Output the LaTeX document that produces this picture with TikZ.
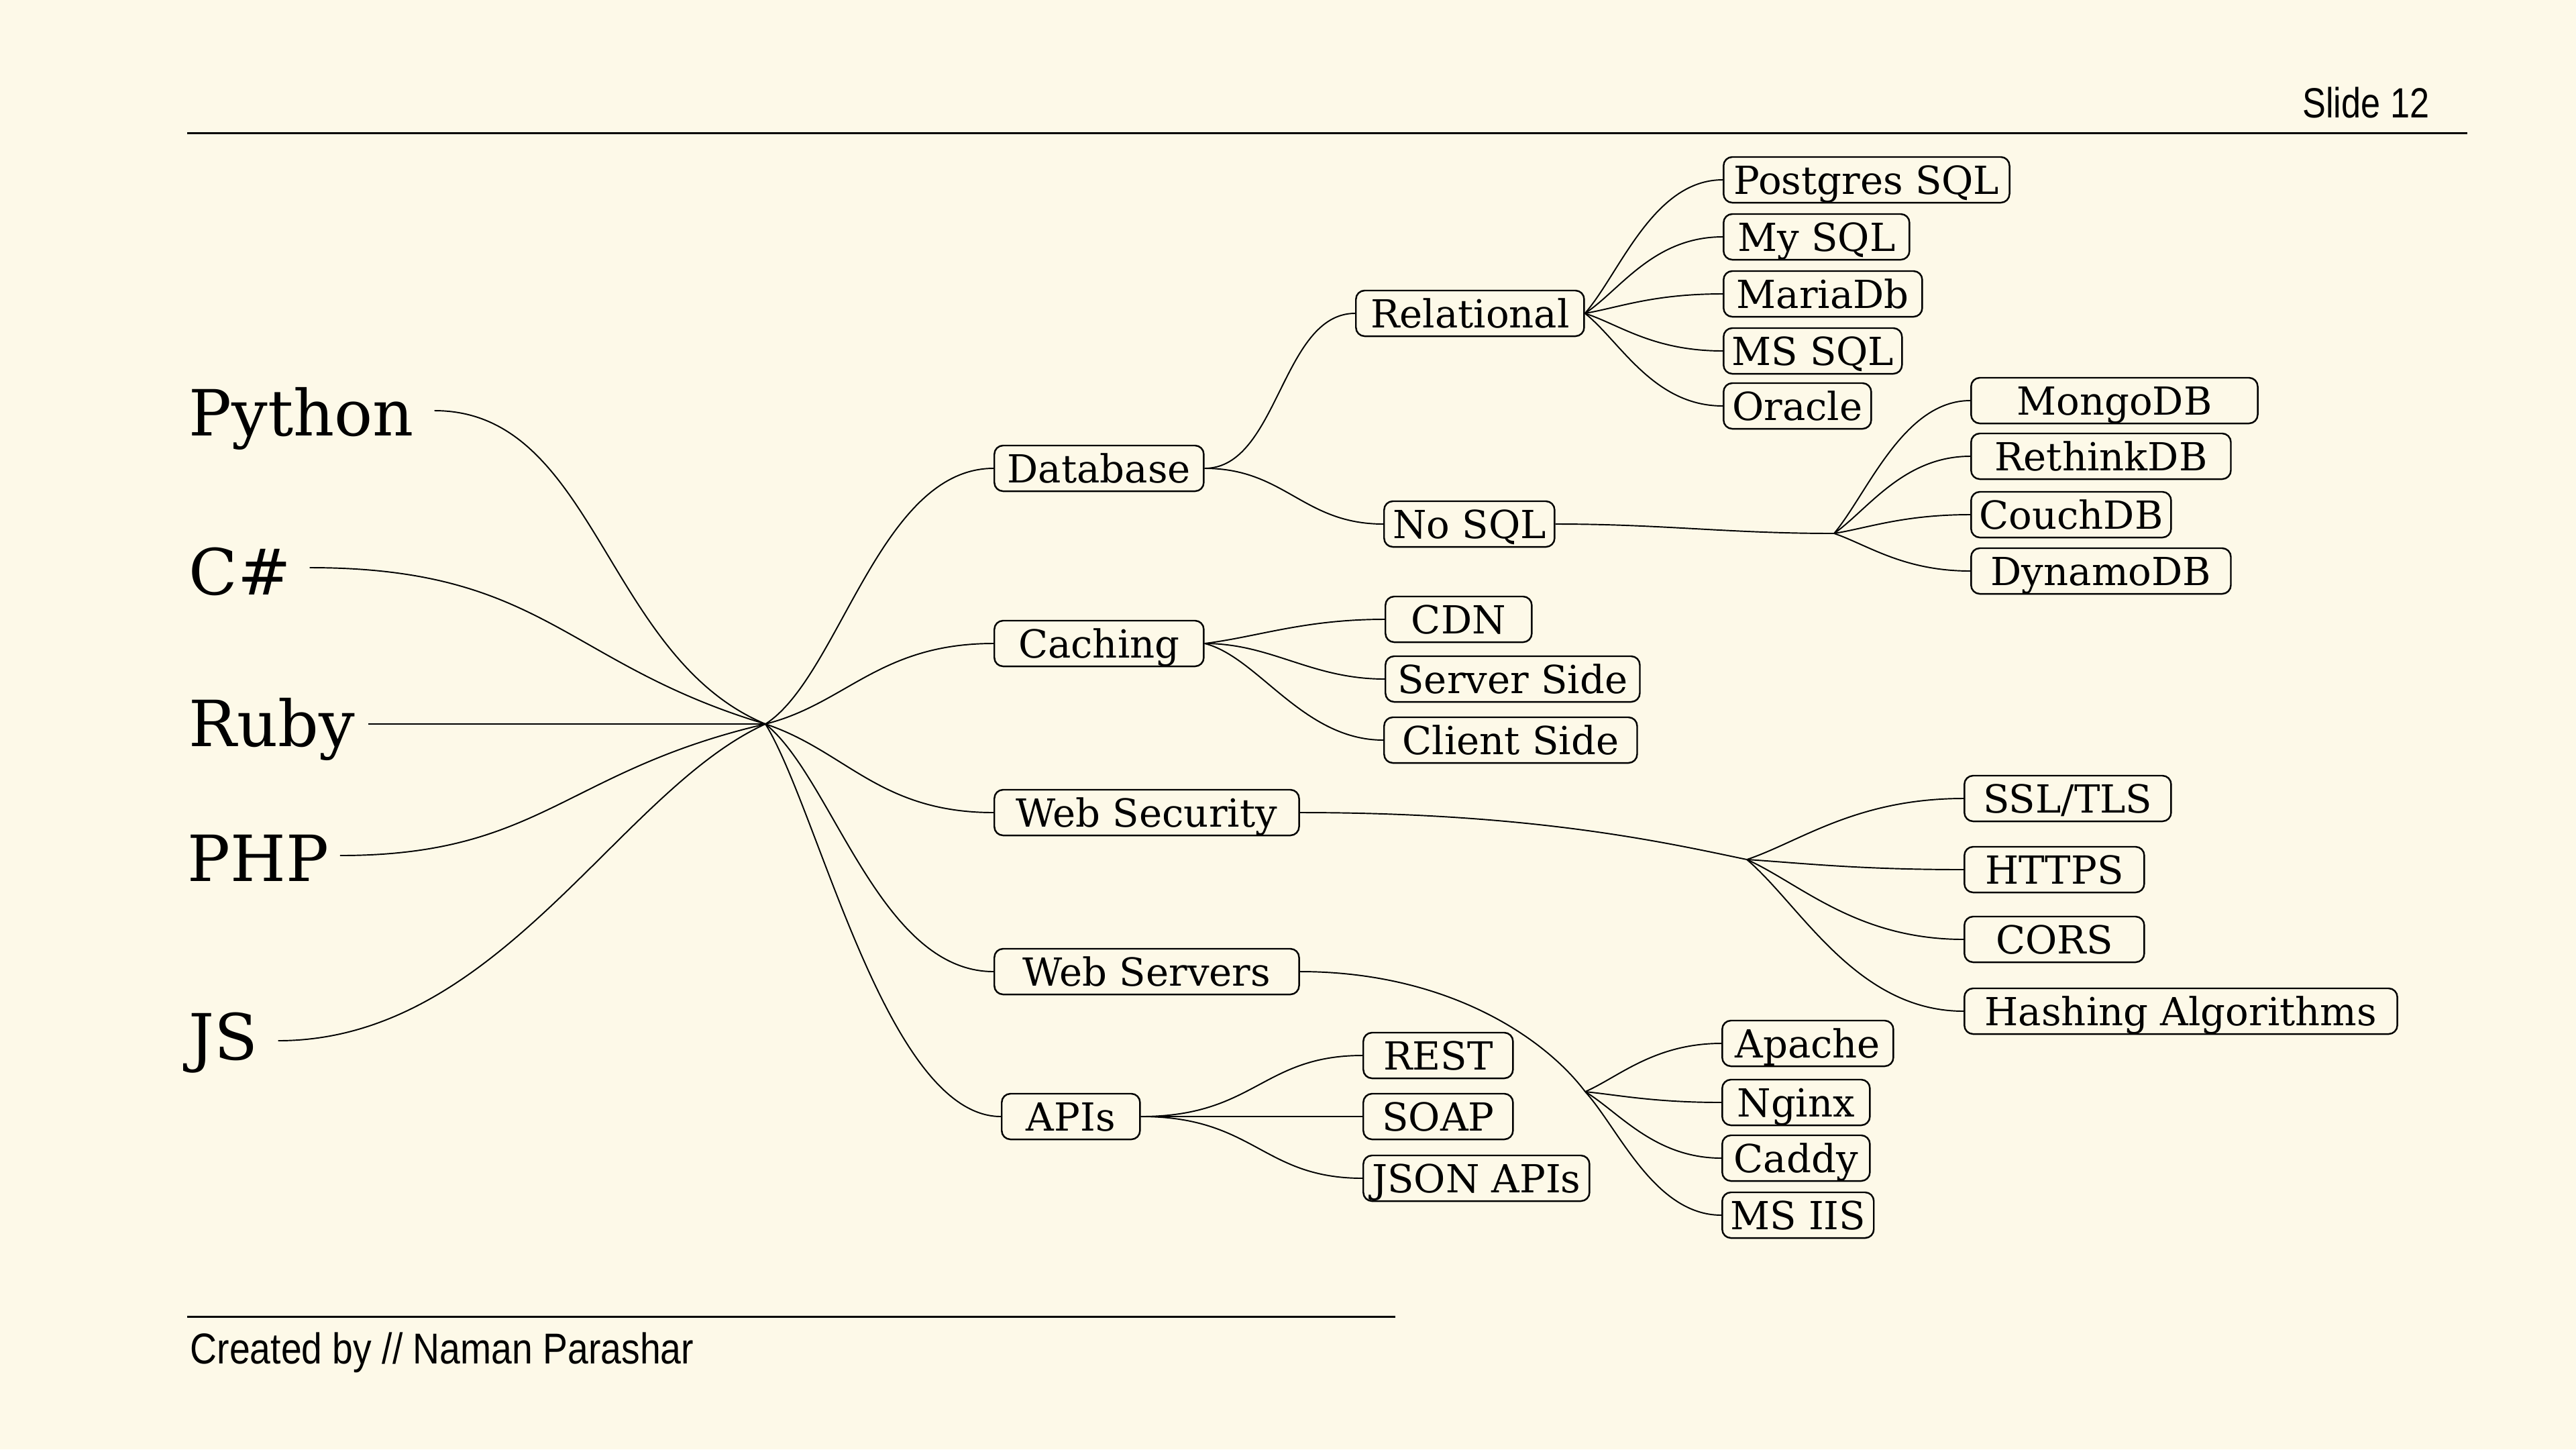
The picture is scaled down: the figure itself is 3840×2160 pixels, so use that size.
\documentclass[tikz,border=0pt]{standalone}
\usepackage{fontspec}
\setmainfont{DejaVu Serif}
\newfontfamily\sansf[FakeStretch=0.83]{Liberation Sans}
\newfontfamily\sansw[FakeStretch=0.86]{Liberation Sans}
\usetikzlibrary{calc}
\definecolor{bgc}{HTML}{FDF9E8}
\tikzset{
  box/.style={draw=black, line width=0.7pt, rounded corners=0.13cm, anchor=west,
    inner xsep=0.12cm, inner ysep=0.03cm, text height=0.52cm, text depth=0.10cm,
    font=\fontsize{16.4}{18}\selectfont},
  lang/.style={anchor=base west, inner sep=0pt, font=\fontsize{27}{31}\selectfont},
  link/.style={line width=0.55pt},
  rulel/.style={line width=0.85pt},
  foot/.style={font=\sansf\fontsize{17.9}{20}\selectfont, inner sep=0pt},
  footw/.style={font=\sansw\fontsize{18.3}{20}\selectfont, inner sep=0pt},
}
\begin{document}
\begin{tikzpicture}[x=0.01cm, y=-0.01cm]
\fill[bgc] (0,0) rectangle (3840,2160);
\useasboundingbox (0,0) rectangle (3840,2160);

% header / footer
\coordinate (hl) at (279,198); \coordinate (hr) at (3678,198);
\draw[rulel] (hl) -- (hr);
\node[foot, anchor=base east] (slide) at (3622,175) {Slide 12};
\coordinate (fl) at (279,1962); \coordinate (fr) at (2080,1962);
\draw[rulel] (fl) -- (fr);
\node[footw, anchor=base west] (credit) at (283,2032) {Created by // Naman Parashar};

% languages
\node[lang] (py) at (281,649) {Python};
\node[lang] (cs) at (281,886) {C\#};
\node[lang] (rb) at (281,1112) {Ruby};
\node[lang] (ph) at (279,1313) {PHP};
\node[lang] (js) at (281,1579) {JS};
\coordinate (pyS) at ($(py.base east)+(30,-37)$);
\coordinate (csS) at ($(cs.base east)+(27,-40)$);
\coordinate (rbS) at ($(rb.base east)+(20,-33)$);
\coordinate (phS) at ($(ph.base east)+(16,-38)$);
\coordinate (jsS) at ($(js.base east)+(29,-28)$);
\coordinate (hub) at (1141,1079);

% level 1
\node[box, minimum width=3.12cm] (db)   at (1481,698)  {Database};
\node[box, minimum width=3.12cm] (cach) at (1481,959)  {Caching};
\node[box, minimum width=4.54cm] (wsec) at (1481,1211) {Web Security};
\node[box, minimum width=4.54cm] (wsrv) at (1481,1448) {Web Servers};
\node[box, minimum width=2.06cm] (api)  at (1492,1664) {APIs};

% database
\node[box, minimum width=3.40cm] (rel)   at (2020,467) {Relational};
\node[box, minimum width=2.54cm] (nosql) at (2062,781) {No SQL};
\node[box, minimum width=4.26cm] (pg)    at (2568,268) {Postgres SQL};
\node[box, minimum width=2.77cm] (my)    at (2568,353) {My SQL};
\node[box, minimum width=2.96cm] (maria) at (2568,438) {MariaDb};
\node[box, minimum width=2.58cm] (ms)    at (2568,523) {MS SQL};
\node[box, minimum width=2.20cm] (ora)   at (2568,605) {Oracle};
\node[box, minimum width=4.27cm] (mongo) at (2937,597) {MongoDB};
\node[box, minimum width=3.87cm] (reth)  at (2937,680) {RethinkDB};
\node[box, minimum width=2.98cm] (couch) at (2937,767) {CouchDB};
\node[box, minimum width=3.87cm] (dyn)   at (2937,851) {DynamoDB};
\coordinate (nsf) at (2734,795);

% caching
\node[box, minimum width=2.18cm] (cdn) at (2064,923)  {CDN};
\node[box, minimum width=3.79cm] (srv) at (2064,1012) {Server Side};
\node[box, minimum width=3.77cm] (cli) at (2062,1103) {Client Side};

% web security
\node[box, minimum width=3.08cm] (ssl)  at (2927,1190) {SSL/TLS};
\node[box, minimum width=2.68cm] (http) at (2927,1296) {HTTPS};
\node[box, minimum width=2.68cm] (cors) at (2927,1400) {CORS};
\node[box, minimum width=6.45cm] (hash) at (2927,1507) {Hashing Algorithms};
\coordinate (wsf) at (2604,1281);

% web servers
\node[box, minimum width=2.55cm] (apa) at (2566,1555) {Apache};
\node[box, minimum width=2.20cm] (ngx) at (2566,1643) {Nginx};
\node[box, minimum width=2.20cm] (cad) at (2566,1726) {Caddy};
\node[box, minimum width=2.20cm] (iis) at (2566,1811) {MS IIS};
\coordinate (wvf) at (2363,1627);

% apis
\node[box, minimum width=2.23cm] (rest) at (2031,1573) {REST};
\node[box, minimum width=2.23cm] (soap) at (2031,1664) {SOAP};
\node[box, minimum width=3.37cm] (json) at (2031,1756) {JSON APIs};

% language connectors
\draw[link] (pyS) .. controls +(240,0) and +(-240,-100) .. (hub);
\draw[link] (csS) .. controls +(350,0) and +(-300,-90) .. (hub);
\draw[link] (rbS) -- (hub);
\draw[link] (phS) .. controls +(300,0) and +(-300,70) .. (hub);
\draw[link] (jsS) .. controls +(330,0) and +(-220,100) .. (hub);

% hub to level 1
\draw[link] (hub) .. controls +(110,-70) and +(-170,0) .. (db.west);
\draw[link] (hub) .. controls +(120,-30) and +(-170,0) .. (cach.west);
\draw[link] (hub) .. controls +(120,40) and +(-170,0) .. (wsec.west);
\draw[link] (hub) .. controls +(100,80) and +(-170,0) .. (wsrv.west);
\draw[link] (hub) .. controls +(80,130) and +(-170,0) .. (api.west);

% database branch
\draw[link] (db.east) .. controls +(110,0) and +(-110,0) .. (rel.west);
\draw[link] (db.east) .. controls +(120,0) and +(-120,0) .. (nosql.west);
\draw[link] (rel.east) .. controls +(52,-60) and +(-104,0) .. (pg.west);
\draw[link] (rel.east) .. controls +(52,-34) and +(-104,0) .. (my.west);
\draw[link] (rel.east) .. controls +(52,-9) and +(-104,0) .. (maria.west);
\draw[link] (rel.east) .. controls +(52,17) and +(-104,0) .. (ms.west);
\draw[link] (rel.east) .. controls +(52,41) and +(-104,0) .. (ora.west);
\draw[link] (nosql.east) .. controls +(160,0) and +(-160,0) .. (nsf);
\draw[link] (nsf) .. controls +(50,-60) and +(-100,0) .. (mongo.west);
\draw[link] (nsf) .. controls +(50,-35) and +(-100,0) .. (reth.west);
\draw[link] (nsf) .. controls +(50,-8) and +(-100,0) .. (couch.west);
\draw[link] (nsf) .. controls +(50,17) and +(-100,0) .. (dyn.west);

% caching branch
\draw[link] (cach.east) .. controls +(80,-10) and +(-120,0) .. (cdn.west);
\draw[link] (cach.east) .. controls +(100,0) and +(-110,0) .. (srv.west);
\draw[link] (cach.east) .. controls +(80,20) and +(-120,0) .. (cli.west);

% web security branch
\draw[link] (wsec.east) .. controls +(350,0) and +(-120,-25) .. (wsf);
\draw[link] (wsf) .. controls +(80,-27) and +(-160,0) .. (ssl.west);
\draw[link] (wsf) .. controls +(80,5) and +(-160,0) .. (http.west);
\draw[link] (wsf) .. controls +(80,36) and +(-160,0) .. (cors.west);
\draw[link] (wsf) .. controls +(80,68) and +(-160,0) .. (hash.west);

% web servers branch
\draw[link] (wsrv.east) .. controls +(220,0) and +(-60,-80) .. (wvf);
\draw[link] (wvf) .. controls +(50,-22) and +(-100,0) .. (apa.west);
\draw[link] (wvf) .. controls +(50,5) and +(-100,0) .. (ngx.west);
\draw[link] (wvf) .. controls +(50,30) and +(-100,0) .. (cad.west);
\draw[link] (wvf) .. controls +(50,55) and +(-100,0) .. (iis.west);

% apis branch
\draw[link] (api.east) .. controls +(170,0) and +(-150,0) .. (rest.west);
\draw[link] (api.east) -- (soap.west);
\draw[link] (api.east) .. controls +(170,0) and +(-150,0) .. (json.west);
\end{tikzpicture}
\end{document}
